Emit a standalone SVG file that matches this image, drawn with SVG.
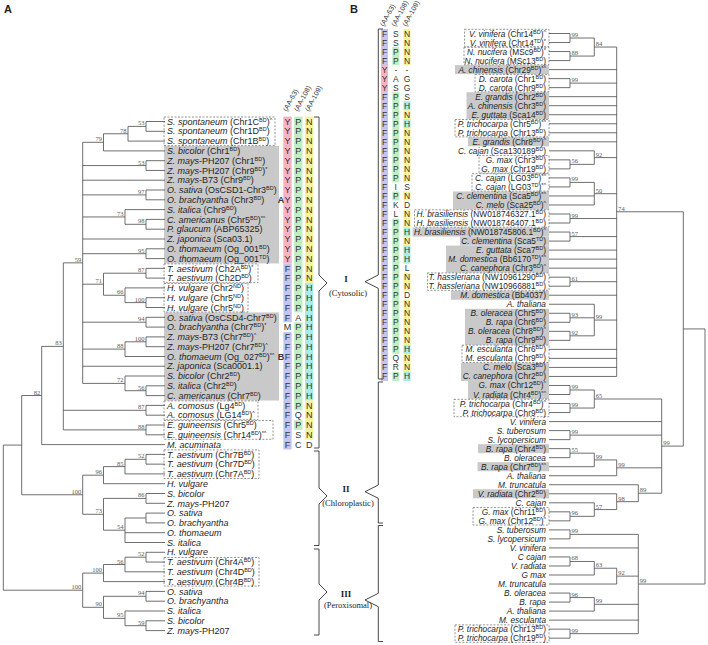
<svg xmlns="http://www.w3.org/2000/svg" width="708" height="645" viewBox="0 0 708 645">
<style>
text{font-family:"Liberation Sans",Arial,sans-serif;fill:#1e1e1e}
.la{font-size:9px}
.lb{font-size:8.3px;text-anchor:end}
.i{font-style:italic}
.s{font-size:5.5px}
.bs{font-family:"Liberation Serif","Times New Roman",serif;font-size:6.5px;fill:#5a5a5a}
.bsa{text-anchor:end}
.ln{fill:none;stroke:#555;stroke-width:0.85}
.gray{fill:#c9c9c9}
.dash{fill:none;stroke:#7a7a7a;stroke-width:0.8;stroke-dasharray:2 1.5}
.aa{font-size:9px;text-anchor:middle;fill:#333}
.aab{font-size:8.5px;text-anchor:middle;fill:#333}
.hd{font-size:7px;fill:#333}
.pk{fill:#f6b3c3}.lv{fill:#c4c4ef}.gr{fill:#c0eec0}.ye{fill:#f4f29a}.cy{fill:#a6ecec}
.br{fill:none;stroke:#333;stroke-width:0.9}
.rn{font-family:"Liberation Serif","Times New Roman",serif;font-size:9px;font-weight:bold;text-anchor:middle}
.rp{font-family:"Liberation Serif","Times New Roman",serif;font-size:8.5px;text-anchor:middle}
.pl{font-size:11px;font-weight:bold}
</style>

<text class="pl" x="4" y="13">A</text>
<text class="pl" x="350" y="13">B</text>

<g id="a-boxes">
<rect class="gray" x="164" y="145.97" width="115" height="117.48"/>
<rect class="gray" x="164" y="312.41" width="115" height="88.11"/>
<rect class="dash" x="164" y="117" width="111" height="28.6"/>
<rect class="dash" x="164" y="263.9" width="94" height="18.8"/>
<rect class="dash" x="164" y="283.4" width="84" height="28.6"/>
<rect class="dash" x="164" y="400.9" width="94" height="18.8"/>
<rect class="dash" x="164" y="420.5" width="109" height="18.8"/>
<rect class="dash" x="164" y="449.9" width="95" height="28.6"/>
<rect class="dash" x="164" y="557.5" width="95" height="28.6"/>
</g>

<g id="b-boxes">
<rect class="gray" x="455" y="65.09" width="94" height="9.03"/>
<rect class="gray" x="466.5" y="92.17" width="82.5" height="27.08"/>
<rect class="gray" x="468" y="137.29" width="81" height="9.03"/>
<rect class="gray" x="453" y="191.44" width="96" height="18.05"/>
<rect class="gray" x="412.5" y="227.54" width="136.5" height="9.03"/>
<rect class="gray" x="460" y="236.57" width="89" height="9.03"/>
<rect class="gray" x="446" y="245.59" width="103" height="27.08"/>
<rect class="gray" x="451" y="290.72" width="98" height="9.03"/>
<rect class="gray" x="465" y="308.77" width="84" height="36.1"/>
<rect class="gray" x="461" y="362.92" width="88" height="18.05"/>
<rect class="gray" x="468" y="380.97" width="81" height="18.05"/>
<rect class="gray" x="478" y="444.14" width="71" height="9.03"/>
<rect class="gray" x="477.5" y="462.19" width="71.5" height="9.03"/>
<rect class="gray" x="473" y="489.27" width="76" height="9.03"/>
<rect class="dash" x="464.5" y="29.3" width="84.5" height="17.4"/>
<rect class="dash" x="464" y="47.3" width="85" height="17.4"/>
<rect class="dash" x="475" y="74.4" width="74" height="17.4"/>
<rect class="dash" x="455" y="119.5" width="94" height="17.4"/>
<rect class="dash" x="479" y="155.6" width="70" height="17.4"/>
<rect class="dash" x="472" y="173.7" width="77" height="17.4"/>
<rect class="dash" x="414.5" y="209.8" width="134.5" height="17.4"/>
<rect class="dash" x="427.5" y="272.9" width="121.5" height="17.4"/>
<rect class="dash" x="462" y="345.1" width="87" height="17.4"/>
<rect class="dash" x="454" y="399.3" width="95" height="17.4"/>
<rect class="dash" x="473" y="507.6" width="76" height="17.4"/>
<rect class="dash" x="455" y="624.9" width="94" height="17.4"/>
</g>

<g id="a-residues">
<rect class="pk" x="283.3" y="116.6" width="8.4" height="146.85"/>
<rect class="lv" x="283.3" y="263.45" width="8.4" height="58.75"/>
<rect class="lv" x="283.3" y="331.99" width="8.4" height="117.48"/>
<rect class="gr" x="294.1" y="116.6" width="8.4" height="195.81"/>
<rect class="gr" x="294.1" y="322.2" width="8.4" height="88.11"/>
<rect class="gr" x="294.1" y="420.1" width="8.4" height="9.79"/>
<rect class="ye" x="305" y="116.6" width="8.4" height="166.43"/>
<rect class="cy" x="305" y="283.03" width="8.4" height="117.49"/>
<rect class="ye" x="305" y="400.52" width="8.4" height="39.16"/>
<text class="hd" transform="translate(287,112) rotate(-62)">(AA-63)</text>
<text class="hd" transform="translate(298,112) rotate(-62)">(AA-108)</text>
<text class="hd" transform="translate(309,112) rotate(-62)">(AA-109)</text>
<text class="aa" x="287.5 298.3 309.2" y="124.7">YPN</text>
<text class="aa" x="287.5 298.3 309.2" y="134.49">YPN</text>
<text class="aa" x="287.5 298.3 309.2" y="144.28">YPN</text>
<text class="aa" x="287.5 298.3 309.2" y="154.07">YPN</text>
<text class="aa" x="287.5 298.3 309.2" y="163.86">YPN</text>
<text class="aa" x="287.5 298.3 309.2" y="173.65">YPN</text>
<text class="aa" x="287.5 298.3 309.2" y="183.44">YPN</text>
<text class="aa" x="287.5 298.3 309.2" y="193.23">YPN</text>
<text class="aa" x="287.5 298.3 309.2" y="203.02">YPN</text>
<text class="aa" x="287.5 298.3 309.2" y="212.81">YPN</text>
<text class="aa" x="287.5 298.3 309.2" y="222.6">YPN</text>
<text class="aa" x="287.5 298.3 309.2" y="232.39">YPN</text>
<text class="aa" x="287.5 298.3 309.2" y="242.18">YPN</text>
<text class="aa" x="287.5 298.3 309.2" y="251.97">YPN</text>
<text class="aa" x="287.5 298.3 309.2" y="261.76">YPN</text>
<text class="aa" x="287.5 298.3 309.2" y="271.55">FPN</text>
<text class="aa" x="287.5 298.3 309.2" y="281.34">FPN</text>
<text class="aa" x="287.5 298.3 309.2" y="291.13">FPH</text>
<text class="aa" x="287.5 298.3 309.2" y="300.92">FPH</text>
<text class="aa" x="287.5 298.3 309.2" y="310.71">FPH</text>
<text class="aa" x="287.5 298.3 309.2" y="320.5">FAH</text>
<text class="aa" x="287.5 298.3 309.2" y="330.29">MPH</text>
<text class="aa" x="287.5 298.3 309.2" y="340.08">FPH</text>
<text class="aa" x="287.5 298.3 309.2" y="349.87">FPH</text>
<text class="aa" x="287.5 298.3 309.2" y="359.66">FPH</text>
<text class="aa" x="287.5 298.3 309.2" y="369.45">FPH</text>
<text class="aa" x="287.5 298.3 309.2" y="379.24">FPH</text>
<text class="aa" x="287.5 298.3 309.2" y="389.03">FPH</text>
<text class="aa" x="287.5 298.3 309.2" y="398.82">FPH</text>
<text class="aa" x="287.5 298.3 309.2" y="408.61">FPN</text>
<text class="aa" x="287.5 298.3 309.2" y="418.4">FQN</text>
<text class="aa" x="287.5 298.3 309.2" y="428.19">FPN</text>
<text class="aa" x="287.5 298.3 309.2" y="437.98">FSN</text>
<text class="aa" x="287.5 298.3 309.2" y="447.77">FCD</text>
<text class="aa" x="281" y="203.02" font-weight="bold">A</text>
<text class="aa" x="281" y="359.66" font-weight="bold">B</text>
</g>

<g id="b-residues">
<rect class="lv" x="381" y="28.99" width="7" height="36.1"/>
<rect class="pk" x="381" y="65.09" width="7" height="27.08"/>
<rect class="lv" x="381" y="92.17" width="7" height="288.8"/>
<rect class="gr" x="392.3" y="47.04" width="7" height="18.05"/>
<rect class="gr" x="392.3" y="92.17" width="7" height="90.25"/>
<rect class="gr" x="392.3" y="191.44" width="7" height="9.03"/>
<rect class="gr" x="392.3" y="218.52" width="7" height="135.37"/>
<rect class="gr" x="392.3" y="371.94" width="7" height="9.03"/>
<rect class="ye" x="403.5" y="28.99" width="7" height="36.1"/>
<rect class="cy" x="403.5" y="101.19" width="7" height="9.03"/>
<rect class="ye" x="403.5" y="110.22" width="7" height="9.02"/>
<rect class="cy" x="403.5" y="119.24" width="7" height="9.03"/>
<rect class="ye" x="403.5" y="128.27" width="7" height="54.15"/>
<rect class="ye" x="403.5" y="191.44" width="7" height="9.03"/>
<rect class="ye" x="403.5" y="209.49" width="7" height="18.05"/>
<rect class="cy" x="403.5" y="227.54" width="7" height="9.03"/>
<rect class="ye" x="403.5" y="236.57" width="7" height="9.02"/>
<rect class="cy" x="403.5" y="245.59" width="7" height="18.05"/>
<rect class="ye" x="403.5" y="272.67" width="7" height="18.05"/>
<rect class="ye" x="403.5" y="299.74" width="7" height="45.13"/>
<rect class="cy" x="403.5" y="344.87" width="7" height="9.02"/>
<rect class="ye" x="403.5" y="353.89" width="7" height="18.05"/>
<rect class="cy" x="403.5" y="371.94" width="7" height="9.03"/>
<text class="hd" transform="translate(384,27) rotate(-62)">(AA-63)</text>
<text class="hd" transform="translate(395.3,27) rotate(-62)">(AA-108)</text>
<text class="hd" transform="translate(406.5,27) rotate(-62)">(AA-109)</text>
<text class="aab" x="384.5 395.8 407" y="36.5">FSN</text>
<text class="aab" x="384.5 395.8 407" y="45.53">FSN</text>
<text class="aab" x="384.5 395.8 407" y="54.55">FPN</text>
<text class="aab" x="384.5 395.8 407" y="63.58">FPN</text>
<text class="aab" x="384.5 395.8 407" y="72.6">Y--</text>
<text class="aab" x="384.5 395.8 407" y="81.63">YAG</text>
<text class="aab" x="384.5 395.8 407" y="90.65">YSG</text>
<text class="aab" x="384.5 395.8 407" y="99.68">FPS</text>
<text class="aab" x="384.5 395.8 407" y="108.7">FPH</text>
<text class="aab" x="384.5 395.8 407" y="117.73">FPN</text>
<text class="aab" x="384.5 395.8 407" y="126.75">FPH</text>
<text class="aab" x="384.5 395.8 407" y="135.78">FPN</text>
<text class="aab" x="384.5 395.8 407" y="144.8">FPN</text>
<text class="aab" x="384.5 395.8 407" y="153.83">FPN</text>
<text class="aab" x="384.5 395.8 407" y="162.85">FPN</text>
<text class="aab" x="384.5 395.8 407" y="171.88">FPN</text>
<text class="aab" x="384.5 395.8 407" y="180.9">FPN</text>
<text class="aab" x="384.5 395.8 407" y="189.93">FIS</text>
<text class="aab" x="384.5 395.8 407" y="198.95">FPN</text>
<text class="aab" x="384.5 395.8 407" y="207.98">FKD</text>
<text class="aab" x="384.5 395.8 407" y="217">FLN</text>
<text class="aab" x="384.5 395.8 407" y="226.03">FPN</text>
<text class="aab" x="384.5 395.8 407" y="235.05">FPH</text>
<text class="aab" x="384.5 395.8 407" y="244.08">FPN</text>
<text class="aab" x="384.5 395.8 407" y="253.1">FPH</text>
<text class="aab" x="384.5 395.8 407" y="262.13">FPH</text>
<text class="aab" x="384.5 395.8 407" y="271.15">FPL</text>
<text class="aab" x="384.5 395.8 407" y="280.18">FPN</text>
<text class="aab" x="384.5 395.8 407" y="289.2">FPN</text>
<text class="aab" x="384.5 395.8 407" y="298.23">FPD</text>
<text class="aab" x="384.5 395.8 407" y="307.25">FPN</text>
<text class="aab" x="384.5 395.8 407" y="316.28">FPN</text>
<text class="aab" x="384.5 395.8 407" y="325.3">FPN</text>
<text class="aab" x="384.5 395.8 407" y="334.33">FPN</text>
<text class="aab" x="384.5 395.8 407" y="343.35">FPN</text>
<text class="aab" x="384.5 395.8 407" y="352.38">FPH</text>
<text class="aab" x="384.5 395.8 407" y="361.4">FQN</text>
<text class="aab" x="384.5 395.8 407" y="370.43">FRN</text>
<text class="aab" x="384.5 395.8 407" y="379.45">FPH</text>
</g>

<g id="clade-I">
<path class="br" d="M314 117H319V275L327 283L319 291V448H314"/>
<path class="br" d="M383 29H378.3V275L365 281.7L378.3 288.3V379H383"/>
<text class="rn" x="346" y="281.5">I</text>
<text class="rp" x="348" y="295.5">(Cytosolic)</text>
</g>
<g id="clade-II">
<path class="br" d="M314 451H319V488L327 496L319 504V545.5H314"/>
<path class="br" d="M383 382H378.3V485L365 491.7L378.3 498.3V523H383"/>
<text class="rn" x="346" y="491.5">II</text>
<text class="rp" x="348" y="505.5">(Chloroplastic)</text>
</g>
<g id="clade-III">
<path class="br" d="M314 549H319V584L327 592L319 600V635H314"/>
<path class="br" d="M383 525.5H378.3V593.3L365 600L378.3 606.7V641.5H383"/>
<text class="rn" x="346" y="596.5">III</text>
<text class="rp" x="348" y="607.5">(Peroxisomal)</text>
</g>

<g id="connectors" class="ln">
<path d="M165 121.5H146V131.3H165M146 126.4H128V141.1H165M128 133.75H103.5V150.9H165M165 160.7H146V170.45H165M165 190H146V199.8H165M165 219.4H146V229.2H165M165 209.6H125V224.3H146M165 248.8H146V258.6H165M165 268.35H146V278.1H165M165 297.7H146V307.5H165M165 287.9H125V302.6H146M146 273.2H103.5V295.25H125M165 317.3H146V327.1H165M165 336.9H146V346.7H165M146 341.8H125V356.5H165M165 385.8H146V395.6H165M165 376H125V390.7H146"/>
<path d="M103.5 142.3H82.7V383.4H125M82.7 165.55H146M82.7 180.2H165M82.7 194.9H146M82.7 216.95H125M82.7 239H165M82.7 253.7H146M82.7 284.2H103.5M82.7 322.2H146M82.7 349.1H125M82.7 366.25H165"/>
<path d="M165 405.4H146V415.2H165M165 425H146V434.8H165M82.7 262.85H63.3V429.9H146M63.3 410.3H146M63.3 346.4H41.7V444.6H165"/>
<path d="M165 454.4H146V464.15H165M146 459.3H125V473.9H165M125 466.6H103.5V483.7H165M165 493.5H146V503.3H165M165 513.1H146V522.9H165M146 518H125V542.5H165M125 532.7H165M146 498.4H103.5V530.2H125M103.5 475.2H82.7V514.3H103.5M41.7 395.5H21.7V494.75H82.7"/>
<path d="M165 552.3H146V562.05H165M146 557.2H125V571.8H165M125 564.5H103.5V581.6H165M165 591.4H146V601.2H165M165 620.8H146V630.6H165M165 611H125V625.7H146M146 596.3H103.5V618.35H125M103.5 573.1H82.7V607.3H103.5M21.7 445.1H3.3V590.2H82.7"/>
<path d="M549 33.5H570V42.53H549M549 51.55H570V60.58H549M570 38H594.3V56.07H570M549 78.63H570V87.65H549M549 159.85H570V168.88H549M549 150.83H594.3V164.37H570M549 177.9H570V186.93H549M570 182.42H594.3V204.98H549M594.3 195.95H549M549 214H570V223.03H549M549 232.05H570V241.08H549M549 277.18H570V286.2H549M549 313.28H570V322.3H549M549 331.33H570V340.35H549M549 304.25H594.3V335.84H570M594.3 317.79H570"/>
<path d="M594.3 47.04H616.7V376.45H549M616.7 69.6H549M616.7 83.14H570M616.7 96.68H549M616.7 105.7H549M616.7 114.73H549M616.7 123.75H549M616.7 132.78H549M616.7 141.8H549M616.7 157.6H594.3M616.7 193.7H594.3M616.7 218.52H570M616.7 236.57H570M616.7 250.1H549M616.7 259.13H549M616.7 268.15H549M616.7 281.69H570M616.7 295.23H549M616.7 320.05H594.3M616.7 349.38H549M616.7 358.4H549M616.7 367.43H549"/>
<path d="M549 385.48H570V394.5H549M549 403.53H570V412.55H549M570 389.99H594.3V408.04H570M549 430.6H570V439.63H549M549 448.65H570V457.68H549M570 453.17H594.3V466.7H549M594.3 459.93H616.7V475.73H549M549 511.83H570V520.85H549M549 502.8H594.3V516.34H570M549 493.78H616.7V509.57H594.3M549 484.75H638.3V501.67H616.7M594.3 399H661.7V493.21H638.3M661.7 421.58H549M661.7 435.12H570M661.7 467.83H616.7M616.7 211.75H683.3V446.1H661.7"/>
<path d="M549 529.88H570V538.9H549M549 556.95H570V565.98H549M570 561.47H594.3V575H549M594.3 568.23H616.7V584.03H549M549 593.05H570V602.08H549M570 597.57H594.3V611.1H549M549 629.15H570V638.18H549M570 534.39H638.3V633.67H570M638.3 547.93H549M638.3 576.13H616.7M638.3 604.33H594.3M638.3 620.13H549M683.3 328.93H705V584.03H638.3"/>
</g>

<g id="a-nodes">
<g id="a-n53a"><text class="bs bsa" x="144.5" y="125.4">53</text></g>
<g id="a-n78"><text class="bs bsa" x="126.5" y="132.75">78</text></g>
<g id="a-n79"><text class="bs bsa" x="102" y="141.3">79</text></g>
<g id="a-n53b"><text class="bs bsa" x="144.5" y="164.55">53</text></g>
<g id="a-n97"><text class="bs bsa" x="144.5" y="193.9">97</text></g>
<g id="a-n98"><text class="bs bsa" x="144.5" y="223.3">98</text></g>
<g id="a-n73"><text class="bs bsa" x="123.5" y="215.95">73</text></g>
<g id="a-n95"><text class="bs bsa" x="144.5" y="252.7">95</text></g>
<g id="a-n87a"><text class="bs bsa" x="144.5" y="272.2">87</text></g>
<g id="a-n100a"><text class="bs bsa" x="144.5" y="301.6">100</text></g>
<g id="a-n66"><text class="bs bsa" x="123.5" y="294.25">66</text></g>
<g id="a-n71"><text class="bs bsa" x="102" y="283.2">71</text></g>
<g id="a-n94a"><text class="bs bsa" x="144.5" y="321.2">94</text></g>
<g id="a-n100b"><text class="bs bsa" x="144.5" y="340.8">100</text></g>
<g id="a-n88a"><text class="bs bsa" x="123.5" y="348.1">88</text></g>
<g id="a-n56a"><text class="bs bsa" x="144.5" y="389.7">56</text></g>
<g id="a-n72"><text class="bs bsa" x="123.5" y="382.4">72</text></g>
<g id="a-n59"><text class="bs bsa" x="81.2" y="261.85">59</text></g>
<g id="a-n87c"><text class="bs bsa" x="144.5" y="409.3">87</text></g>
<g id="a-n88e"><text class="bs bsa" x="144.5" y="428.9">88</text></g>
<g id="a-n83"><text class="bs bsa" x="61.8" y="345.4">83</text></g>
<g id="a-n82"><text class="bs bsa" x="40.2" y="394.5">82</text></g>
<g id="a-n52c"><text class="bs bsa" x="144.5" y="458.3">52</text></g>
<g id="a-n85"><text class="bs bsa" x="123.5" y="465.6">85</text></g>
<g id="a-n96"><text class="bs bsa" x="102" y="474.2">96</text></g>
<g id="a-n86"><text class="bs bsa" x="144.5" y="497.4">86</text></g>
<g id="a-n54"><text class="bs bsa" x="123.5" y="529.2">54</text></g>
<g id="a-n73c"><text class="bs bsa" x="102" y="513.3">73</text></g>
<g id="a-n100c"><text class="bs bsa" x="81.2" y="493.75">100</text></g>
<g id="a-n52p"><text class="bs bsa" x="144.5" y="556.2">52</text></g>
<g id="a-n56p"><text class="bs bsa" x="123.5" y="563.5">56</text></g>
<g id="a-n100p"><text class="bs bsa" x="102" y="572.1">100</text></g>
<g id="a-n94p"><text class="bs bsa" x="144.5" y="595.3">94</text></g>
<g id="a-n59p"><text class="bs bsa" x="144.5" y="624.7">59</text></g>
<g id="a-n95p"><text class="bs bsa" x="123.5" y="617.35">95</text></g>
<g id="a-n90"><text class="bs bsa" x="102" y="606.3">90</text></g>
<g id="a-n100per"><text class="bs bsa" x="81.2" y="589.2">100</text></g>
</g>

<g id="b-nodes">
<g id="b-m99v"><text class="bs" x="571.5" y="37">99</text></g>
<g id="b-m88n"><text class="bs" x="571.5" y="55.07">88</text></g>
<g id="b-m84"><text class="bs" x="595.8" y="46.04">84</text></g>
<g id="b-m99d"><text class="bs" x="571.5" y="82.14">99</text></g>
<g id="b-m56g"><text class="bs" x="571.5" y="163.37">56</text></g>
<g id="b-m92"><text class="bs" x="595.8" y="156.6">92</text></g>
<g id="b-m99c"><text class="bs" x="571.5" y="181.42">99</text></g>
<g id="b-m50"><text class="bs" x="595.8" y="192.7">50</text></g>
<g id="b-m99h"><text class="bs" x="571.5" y="217.52">99</text></g>
<g id="b-m57h"><text class="bs" x="571.5" y="235.57">57</text></g>
<g id="b-m61"><text class="bs" x="571.5" y="280.69">61</text></g>
<g id="b-m93"><text class="bs" x="571.5" y="316.79">93</text></g>
<g id="b-m92b"><text class="bs" x="571.5" y="334.84">92</text></g>
<g id="b-m99br"><text class="bs" x="595.8" y="319.05">99</text></g>
<g id="b-m74"><text class="bs" x="618.2" y="210.75">74</text></g>
<g id="b-m99gv"><text class="bs" x="571.5" y="388.99">99</text></g>
<g id="b-m99pt"><text class="bs" x="571.5" y="407.04">99</text></g>
<g id="b-m65"><text class="bs" x="595.8" y="398">65</text></g>
<g id="b-m99st"><text class="bs" x="571.5" y="434.12">99</text></g>
<g id="b-m55"><text class="bs" x="571.5" y="452.17">55</text></g>
<g id="b-m99b2"><text class="bs" x="595.8" y="458.93">99</text></g>
<g id="b-m99at"><text class="bs" x="618.2" y="466.83">99</text></g>
<g id="b-m96g"><text class="bs" x="571.5" y="515.34">96</text></g>
<g id="b-m57c"><text class="bs" x="595.8" y="508.57">57</text></g>
<g id="b-m98"><text class="bs" x="618.2" y="500.67">98</text></g>
<g id="b-m89"><text class="bs" x="639.8" y="492.21">89</text></g>
<g id="b-m99chl"><text class="bs" x="663.2" y="445.1">99</text></g>
<g id="b-m99st2"><text class="bs" x="571.5" y="533.39">99</text></g>
<g id="b-m68"><text class="bs" x="571.5" y="560.47">68</text></g>
<g id="b-m63"><text class="bs" x="595.8" y="567.23">63</text></g>
<g id="b-m92p"><text class="bs" x="618.2" y="575.13">92</text></g>
<g id="b-m96p"><text class="bs" x="571.5" y="596.57">96</text></g>
<g id="b-m99p"><text class="bs" x="595.8" y="603.33">99</text></g>
<g id="b-m99pt2"><text class="bs" x="571.5" y="632.67">99</text></g>
<g id="b-m99per"><text class="bs" x="639.8" y="583.03">99</text></g>
</g>

<g id="a-leaves">
<g id="a-l01"><text class="la" x="167" y="124.7"><tspan class="i">S. spontaneum</tspan> (Chr1C<tspan class="s" dy="-3">BD</tspan><tspan dy="3">)</tspan><tspan class="s" dy="-3">^</tspan></text></g>
<g id="a-l02"><text class="la" x="167" y="134.49"><tspan class="i">S. spontaneum</tspan> (Chr1D<tspan class="s" dy="-3">BD</tspan><tspan dy="3">)</tspan></text></g>
<g id="a-l03"><text class="la" x="167" y="144.28"><tspan class="i">S. spontaneum</tspan> (Chr1B<tspan class="s" dy="-3">BD</tspan><tspan dy="3">)</tspan></text></g>
<g id="a-l04"><text class="la" x="167" y="154.07"><tspan class="i">S. bicolor</tspan> (Chr1<tspan class="s" dy="-3">BD</tspan><tspan dy="3">)</tspan></text></g>
<g id="a-l05"><text class="la" x="167" y="163.86"><tspan class="i">Z. mays</tspan>-PH207 (Chr1<tspan class="s" dy="-3">BD</tspan><tspan dy="3">)</tspan></text></g>
<g id="a-l06"><text class="la" x="167" y="173.65"><tspan class="i">Z. mays</tspan>-PH207 (Chr9<tspan class="s" dy="-3">BD</tspan><tspan dy="3">)</tspan><tspan class="s" dy="-3">*</tspan></text></g>
<g id="a-l07"><text class="la" x="167" y="183.44"><tspan class="i">Z. mays</tspan>-B73 (Chr9<tspan class="s" dy="-3">BD</tspan><tspan dy="3">)</tspan></text></g>
<g id="a-l08"><text class="la" x="167" y="193.23"><tspan class="i">O. sativa</tspan> (OsCSD1-Chr3<tspan class="s" dy="-3">BD</tspan><tspan dy="3">)</tspan></text></g>
<g id="a-l09"><text class="la" x="167" y="203.02"><tspan class="i">O. brachyantha</tspan> (Chr3<tspan class="s" dy="-3">BD</tspan><tspan dy="3">)</tspan></text></g>
<g id="a-l10"><text class="la" x="167" y="212.81"><tspan class="i">S. italica</tspan> (Chr9<tspan class="s" dy="-3">BD</tspan><tspan dy="3">)</tspan></text></g>
<g id="a-l11"><text class="la" x="167" y="222.6"><tspan class="i">C. americanus</tspan> (Chr5<tspan class="s" dy="-3">BD</tspan><tspan dy="3">)</tspan><tspan class="s" dy="-3">*^</tspan></text></g>
<g id="a-l12"><text class="la" x="167" y="232.39"><tspan class="i">P. glaucum</tspan> (ABP65325)</text></g>
<g id="a-l13"><text class="la" x="167" y="242.18"><tspan class="i">Z. japonica</tspan> (Sca03.1)</text></g>
<g id="a-l14"><text class="la" x="167" y="251.97"><tspan class="i">O. thomaeum</tspan> (Og_001<tspan class="s" dy="-3">BD</tspan><tspan dy="3">)</tspan></text></g>
<g id="a-l15"><text class="la" x="167" y="261.76"><tspan class="i">O. thomaeum</tspan> (Og_001<tspan class="s" dy="-3">TD</tspan><tspan dy="3">)</tspan></text></g>
<g id="a-l16"><text class="la" x="167" y="271.55"><tspan class="i">T. aestivum</tspan> (Ch2A<tspan class="s" dy="-3">BD</tspan><tspan dy="3">)</tspan><tspan class="s" dy="-3">*</tspan></text></g>
<g id="a-l17"><text class="la" x="167" y="281.34"><tspan class="i">T. aestivum</tspan> (Ch2D<tspan class="s" dy="-3">BD</tspan><tspan dy="3">)</tspan></text></g>
<g id="a-l18"><text class="la" x="167" y="291.13"><tspan class="i">H. vulgare</tspan> (Chr2<tspan class="s" dy="-3">ND</tspan><tspan dy="3">)</tspan></text></g>
<g id="a-l19"><text class="la" x="167" y="300.92"><tspan class="i">H. vulgare</tspan> (Chr5<tspan class="s" dy="-3">ND</tspan><tspan dy="3">)</tspan></text></g>
<g id="a-l20"><text class="la" x="167" y="310.71"><tspan class="i">H. vulgare</tspan> (Chr5<tspan class="s" dy="-3">ND</tspan><tspan dy="3">)</tspan></text></g>
<g id="a-l21"><text class="la" x="167" y="320.5"><tspan class="i">O. sativa</tspan> (OsCSD4-Chr7<tspan class="s" dy="-3">BD</tspan><tspan dy="3">)</tspan></text></g>
<g id="a-l22"><text class="la" x="167" y="330.29"><tspan class="i">O. brachyantha</tspan> (Chr7<tspan class="s" dy="-3">BD</tspan><tspan dy="3">)</tspan><tspan class="s" dy="-3">*</tspan></text></g>
<g id="a-l23"><text class="la" x="167" y="340.08"><tspan class="i">Z. mays</tspan>-B73 (Chr7<tspan class="s" dy="-3">BD</tspan><tspan dy="3">)</tspan><tspan class="s" dy="-3">^</tspan></text></g>
<g id="a-l24"><text class="la" x="167" y="349.87"><tspan class="i">Z. mays</tspan>-PH207 (Chr7<tspan class="s" dy="-3">BD</tspan><tspan dy="3">)</tspan><tspan class="s" dy="-3">^</tspan></text></g>
<g id="a-l25"><text class="la" x="167" y="359.66"><tspan class="i">O. thomaeum</tspan> (Og_027<tspan class="s" dy="-3">BD</tspan><tspan dy="3">)</tspan><tspan class="s" dy="-3">*^</tspan></text></g>
<g id="a-l26"><text class="la" x="167" y="369.45"><tspan class="i">Z. japonica</tspan> (Sca0001.1)</text></g>
<g id="a-l27"><text class="la" x="167" y="379.24"><tspan class="i">S. bicolor</tspan> (Chr2<tspan class="s" dy="-3">BD</tspan><tspan dy="3">)</tspan></text></g>
<g id="a-l28"><text class="la" x="167" y="389.03"><tspan class="i">S. italica</tspan> (Chr2<tspan class="s" dy="-3">BD</tspan><tspan dy="3">)</tspan></text></g>
<g id="a-l29"><text class="la" x="167" y="398.82"><tspan class="i">C. americanus</tspan> (Chr7<tspan class="s" dy="-3">BD</tspan><tspan dy="3">)</tspan></text></g>
<g id="a-l30"><text class="la" x="167" y="408.61"><tspan class="i">A. comosus</tspan> (Lg4<tspan class="s" dy="-3">BD</tspan><tspan dy="3">)</tspan></text></g>
<g id="a-l31"><text class="la" x="167" y="418.4"><tspan class="i">A. comosus</tspan> (LG14<tspan class="s" dy="-3">BD</tspan><tspan dy="3">)</tspan><tspan class="s" dy="-3">^</tspan></text></g>
<g id="a-l32"><text class="la" x="167" y="428.19"><tspan class="i">E. guineensis</tspan> (Chr5<tspan class="s" dy="-3">BD</tspan><tspan dy="3">)</tspan></text></g>
<g id="a-l33"><text class="la" x="167" y="437.98"><tspan class="i">E. guineensis</tspan> (Chr14<tspan class="s" dy="-3">BD</tspan><tspan dy="3">)</tspan><tspan class="s" dy="-3">*^</tspan></text></g>
<g id="a-l34"><text class="la i" x="167" y="447.77">M. acuminata</text></g>
<g id="a-l35"><text class="la" x="167" y="457.56"><tspan class="i">T. aestivum</tspan> (Chr7B<tspan class="s" dy="-3">BD</tspan><tspan dy="3">)</tspan></text></g>
<g id="a-l36"><text class="la" x="167" y="467.35"><tspan class="i">T. aestivum</tspan> (Chr7D<tspan class="s" dy="-3">BD</tspan><tspan dy="3">)</tspan></text></g>
<g id="a-l37"><text class="la" x="167" y="477.14"><tspan class="i">T. aestivum</tspan> (Chr7A<tspan class="s" dy="-3">BD</tspan><tspan dy="3">)</tspan></text></g>
<g id="a-l38"><text class="la i" x="167" y="486.93">H. vulgare</text></g>
<g id="a-l39"><text class="la i" x="167" y="496.72">S. bicolor</text></g>
<g id="a-l40"><text class="la" x="167" y="506.51"><tspan class="i">Z. mays</tspan>-PH207</text></g>
<g id="a-l41"><text class="la i" x="167" y="516.3">O. sativa</text></g>
<g id="a-l42"><text class="la i" x="167" y="526.09">O. brachyantha</text></g>
<g id="a-l43"><text class="la i" x="167" y="535.88">O. thomaeum</text></g>
<g id="a-l44"><text class="la i" x="167" y="545.67">S. italica</text></g>
<g id="a-l45"><text class="la i" x="167" y="555.46">H. vulgare</text></g>
<g id="a-l46"><text class="la" x="167" y="565.25"><tspan class="i">T. aestivum</tspan> (Chr4A<tspan class="s" dy="-3">BD</tspan><tspan dy="3">)</tspan></text></g>
<g id="a-l47"><text class="la" x="167" y="575.04"><tspan class="i">T. aestivum</tspan> (Chr4D<tspan class="s" dy="-3">BD</tspan><tspan dy="3">)</tspan></text></g>
<g id="a-l48"><text class="la" x="167" y="584.83"><tspan class="i">T. aestivum</tspan> (Chr4B<tspan class="s" dy="-3">BD</tspan><tspan dy="3">)</tspan></text></g>
<g id="a-l49"><text class="la i" x="167" y="594.62">O. sativa</text></g>
<g id="a-l50"><text class="la i" x="167" y="604.41">O. brachyantha</text></g>
<g id="a-l51"><text class="la i" x="167" y="614.2">S. italica</text></g>
<g id="a-l52"><text class="la i" x="167" y="623.99">S. bicolor</text></g>
<g id="a-l53"><text class="la" x="167" y="633.78"><tspan class="i">Z. mays</tspan>-PH207</text></g>
</g>

<g id="b-leaves">
<g id="b-l01"><text class="lb" x="546" y="36.5"><tspan class="i">V. vinifera</tspan> (Chr14<tspan class="s" dy="-3">BD</tspan><tspan dy="3">)</tspan><tspan class="s" dy="-3">^</tspan></text></g>
<g id="b-l02"><text class="lb" x="546" y="45.53"><tspan class="i">V. vinifera</tspan> (Chr14<tspan class="s" dy="-3">TD</tspan><tspan dy="3">)</tspan><tspan class="s" dy="-3">*</tspan></text></g>
<g id="b-l03"><text class="lb" x="546" y="54.55"><tspan class="i">N. nucifera</tspan> (MSc9<tspan class="s" dy="-3">BD</tspan><tspan dy="3">)</tspan><tspan class="s" dy="-3">*</tspan></text></g>
<g id="b-l04"><text class="lb" x="546" y="63.58"><tspan class="i">N. nucifera</tspan> (MSc13<tspan class="s" dy="-3">BD</tspan><tspan dy="3">)</tspan></text></g>
<g id="b-l05"><text class="lb" x="546" y="72.6"><tspan class="i">A. chinensis</tspan> (Chr29<tspan class="s" dy="-3">BD</tspan><tspan dy="3">)</tspan><tspan class="s" dy="-3">*^</tspan></text></g>
<g id="b-l06"><text class="lb" x="546" y="81.63"><tspan class="i">D. carota</tspan> (Chr1<tspan class="s" dy="-3">BD</tspan><tspan dy="3">)</tspan></text></g>
<g id="b-l07"><text class="lb" x="546" y="90.65"><tspan class="i">D. carota</tspan> (Chr9<tspan class="s" dy="-3">BD</tspan><tspan dy="3">)</tspan></text></g>
<g id="b-l08"><text class="lb" x="546" y="99.68"><tspan class="i">E. grandis</tspan> (Chr2<tspan class="s" dy="-3">BD</tspan><tspan dy="3">)</tspan></text></g>
<g id="b-l09"><text class="lb" x="546" y="108.7"><tspan class="i">A. chinensis</tspan> (Chr3<tspan class="s" dy="-3">BD</tspan><tspan dy="3">)</tspan></text></g>
<g id="b-l10"><text class="lb" x="546" y="117.73"><tspan class="i">E. guttata</tspan> (Sca14<tspan class="s" dy="-3">BD</tspan><tspan dy="3">)</tspan></text></g>
<g id="b-l11"><text class="lb" x="546" y="126.75"><tspan class="i">P. trichocarpa</tspan> (Chr5<tspan class="s" dy="-3">BD</tspan><tspan dy="3">)</tspan><tspan class="s" dy="-3">*^</tspan></text></g>
<g id="b-l12"><text class="lb" x="546" y="135.78"><tspan class="i">P. trichocarpa</tspan> (Chr13<tspan class="s" dy="-3">BD</tspan><tspan dy="3">)</tspan></text></g>
<g id="b-l13"><text class="lb" x="546" y="144.8"><tspan class="i">E. grandis</tspan> (Chr8<tspan class="s" dy="-3">BD</tspan><tspan dy="3">)</tspan><tspan class="s" dy="-3">^</tspan></text></g>
<g id="b-l14"><text class="lb" x="546" y="153.83"><tspan class="i">C. cajan</tspan> (Sca130189<tspan class="s" dy="-3">BD</tspan><tspan dy="3">)</tspan></text></g>
<g id="b-l15"><text class="lb" x="546" y="162.85"><tspan class="i">G. max</tspan> (Chr3<tspan class="s" dy="-3">BD</tspan><tspan dy="3">)</tspan></text></g>
<g id="b-l16"><text class="lb" x="546" y="171.88"><tspan class="i">G. max</tspan> (Chr19<tspan class="s" dy="-3">BD</tspan><tspan dy="3">)</tspan></text></g>
<g id="b-l17"><text class="lb" x="546" y="180.9"><tspan class="i">C. cajan</tspan> (LG03<tspan class="s" dy="-3">BD</tspan><tspan dy="3">)</tspan><tspan class="s" dy="-3">*^</tspan></text></g>
<g id="b-l18"><text class="lb" x="546" y="189.93"><tspan class="i">C. cajan</tspan> (LG03<tspan class="s" dy="-3">TD</tspan><tspan dy="3">)</tspan><tspan class="s" dy="-3">*^</tspan></text></g>
<g id="b-l19"><text class="lb" x="546" y="198.95"><tspan class="i">C. clementina</tspan> (Sca5<tspan class="s" dy="-3">BD</tspan><tspan dy="3">)</tspan><tspan class="s" dy="-3">*^</tspan></text></g>
<g id="b-l20"><text class="lb" x="546" y="207.98"><tspan class="i">C. melo</tspan> (Sca25<tspan class="s" dy="-3">BD</tspan><tspan dy="3">)</tspan><tspan class="s" dy="-3">^</tspan></text></g>
<g id="b-l21"><text class="lb" x="546" y="217"><tspan class="i">H. brasiliensis</tspan> (NW018746327.1<tspan class="s" dy="-3">BD</tspan><tspan dy="3">)</tspan></text></g>
<g id="b-l22"><text class="lb" x="546" y="226.03"><tspan class="i">H. brasiliensis</tspan> (NW018746407.1<tspan class="s" dy="-3">BD</tspan><tspan dy="3">)</tspan></text></g>
<g id="b-l23"><text class="lb" x="546" y="235.05"><tspan class="i">H. brasiliensis</tspan> (NW018745806.1<tspan class="s" dy="-3">BD</tspan><tspan dy="3">)</tspan><tspan class="s" dy="-3">^</tspan></text></g>
<g id="b-l24"><text class="lb" x="546" y="244.08"><tspan class="i">C. clementina</tspan> (Sca5<tspan class="s" dy="-3">TD</tspan><tspan dy="3">)</tspan></text></g>
<g id="b-l25"><text class="lb" x="546" y="253.1"><tspan class="i">E. guttata</tspan> (Sca7<tspan class="s" dy="-3">BD</tspan><tspan dy="3">)</tspan></text></g>
<g id="b-l26"><text class="lb" x="546" y="262.13"><tspan class="i">M. domestica</tspan> (Bb6170<tspan class="s" dy="-3">TD</tspan><tspan dy="3">)</tspan><tspan class="s" dy="-3">*^</tspan></text></g>
<g id="b-l27"><text class="lb" x="546" y="271.15"><tspan class="i">C. canephora</tspan> (Chr3<tspan class="s" dy="-3">BD</tspan><tspan dy="3">)</tspan><tspan class="s" dy="-3">^</tspan></text></g>
<g id="b-l28"><text class="lb" x="546" y="280.18"><tspan class="i">T. hassleriana</tspan> (NW10961290<tspan class="s" dy="-3">BD</tspan><tspan dy="3">)</tspan></text></g>
<g id="b-l29"><text class="lb" x="546" y="289.2"><tspan class="i">T. hassleriana</tspan> (NW10966881<tspan class="s" dy="-3">BD</tspan><tspan dy="3">)</tspan></text></g>
<g id="b-l30"><text class="lb" x="546" y="298.23"><tspan class="i">M. domestica</tspan> (Bb4037)</text></g>
<g id="b-l31"><text class="lb i" x="546" y="307.25">A. thaliana</text></g>
<g id="b-l32"><text class="lb" x="546" y="316.28"><tspan class="i">B. oleracea</tspan> (Chr5<tspan class="s" dy="-3">BD</tspan><tspan dy="3">)</tspan></text></g>
<g id="b-l33"><text class="lb" x="546" y="325.3"><tspan class="i">B. rapa</tspan> (Chr6<tspan class="s" dy="-3">BD</tspan><tspan dy="3">)</tspan></text></g>
<g id="b-l34"><text class="lb" x="546" y="334.33"><tspan class="i">B. oleracea</tspan> (Chr8<tspan class="s" dy="-3">BD</tspan><tspan dy="3">)</tspan><tspan class="s" dy="-3">^</tspan></text></g>
<g id="b-l35"><text class="lb" x="546" y="343.35"><tspan class="i">B. rapa</tspan> (Chr9<tspan class="s" dy="-3">BD</tspan><tspan dy="3">)</tspan></text></g>
<g id="b-l36"><text class="lb" x="546" y="352.38"><tspan class="i">M. esculanta</tspan> (Chr6<tspan class="s" dy="-3">BD</tspan><tspan dy="3">)</tspan></text></g>
<g id="b-l37"><text class="lb" x="546" y="361.4"><tspan class="i">M. esculanta</tspan> (Chr9<tspan class="s" dy="-3">BD</tspan><tspan dy="3">)</tspan></text></g>
<g id="b-l38"><text class="lb" x="546" y="370.43"><tspan class="i">C. melo</tspan> (Sca3<tspan class="s" dy="-3">BD</tspan><tspan dy="3">)</tspan></text></g>
<g id="b-l39"><text class="lb" x="546" y="379.45"><tspan class="i">C. canephora</tspan> (Chr2<tspan class="s" dy="-3">BD</tspan><tspan dy="3">)</tspan></text></g>
<g id="b-l40"><text class="lb" x="546" y="388.48"><tspan class="i">G. max</tspan> (Chr12<tspan class="s" dy="-3">BD</tspan><tspan dy="3">)</tspan><tspan class="s" dy="-3">^</tspan></text></g>
<g id="b-l41"><text class="lb" x="546" y="397.5"><tspan class="i">V. radiata</tspan> (Chr4<tspan class="s" dy="-3">BD</tspan><tspan dy="3">)</tspan><tspan class="s" dy="-3">*^</tspan></text></g>
<g id="b-l42"><text class="lb" x="546" y="406.53"><tspan class="i">P. trichocarpa</tspan> (Chr4<tspan class="s" dy="-3">BD</tspan><tspan dy="3">)</tspan><tspan class="s" dy="-3">^</tspan></text></g>
<g id="b-l43"><text class="lb" x="546" y="415.55"><tspan class="i">P. trichocarpa</tspan> (Chr9<tspan class="s" dy="-3">BD</tspan><tspan dy="3">)</tspan></text></g>
<g id="b-l44"><text class="lb i" x="546" y="424.58">V. vinifera</text></g>
<g id="b-l45"><text class="lb i" x="546" y="433.6">S. tuberosum</text></g>
<g id="b-l46"><text class="lb i" x="546" y="442.63">S. lycopersicum</text></g>
<g id="b-l47"><text class="lb" x="546" y="451.65"><tspan class="i">B. rapa</tspan> (Chr4<tspan class="s" dy="-3">BD</tspan><tspan dy="3">)</tspan></text></g>
<g id="b-l48"><text class="lb i" x="546" y="460.68">B. oleracea</text></g>
<g id="b-l49"><text class="lb" x="546" y="469.7"><tspan class="i">B. rapa</tspan> (Chr7<tspan class="s" dy="-3">BD</tspan><tspan dy="3">)</tspan><tspan class="s" dy="-3">*^</tspan></text></g>
<g id="b-l50"><text class="lb i" x="546" y="478.73">A. thaliana</text></g>
<g id="b-l51"><text class="lb i" x="546" y="487.75">M. truncatula</text></g>
<g id="b-l52"><text class="lb" x="546" y="496.78"><tspan class="i">V. radiata</tspan> (Chr2<tspan class="s" dy="-3">BD</tspan><tspan dy="3">)</tspan></text></g>
<g id="b-l53"><text class="lb i" x="546" y="505.8">C. cajan</text></g>
<g id="b-l54"><text class="lb" x="546" y="514.83"><tspan class="i">G. max</tspan> (Chr11<tspan class="s" dy="-3">BD</tspan><tspan dy="3">)</tspan></text></g>
<g id="b-l55"><text class="lb" x="546" y="523.85"><tspan class="i">G. max</tspan> (Chr12<tspan class="s" dy="-3">BD</tspan><tspan dy="3">)</tspan><tspan class="s" dy="-3">^</tspan></text></g>
<g id="b-l56"><text class="lb i" x="546" y="532.88">S. tuberosum</text></g>
<g id="b-l57"><text class="lb i" x="546" y="541.9">S. lycopersicum</text></g>
<g id="b-l58"><text class="lb i" x="546" y="550.93">V. vinifera</text></g>
<g id="b-l59"><text class="lb i" x="546" y="559.95">C cajan</text></g>
<g id="b-l60"><text class="lb i" x="546" y="568.98">V. radiata</text></g>
<g id="b-l61"><text class="lb i" x="546" y="578">G max</text></g>
<g id="b-l62"><text class="lb i" x="546" y="587.03">M. truncatula</text></g>
<g id="b-l63"><text class="lb i" x="546" y="596.05">B. oleracea</text></g>
<g id="b-l64"><text class="lb i" x="546" y="605.08">B. rapa</text></g>
<g id="b-l65"><text class="lb i" x="546" y="614.1">A. thaliana</text></g>
<g id="b-l66"><text class="lb i" x="546" y="623.13">M. esculanta</text></g>
<g id="b-l67"><text class="lb" x="546" y="632.15"><tspan class="i">P. trichocarpa</tspan> (Chr13<tspan class="s" dy="-3">BD</tspan><tspan dy="3">)</tspan></text></g>
<g id="b-l68"><text class="lb" x="546" y="641.18"><tspan class="i">P. trichocarpa</tspan> (Chr19<tspan class="s" dy="-3">BD</tspan><tspan dy="3">)</tspan></text></g>
</g>
</svg>
